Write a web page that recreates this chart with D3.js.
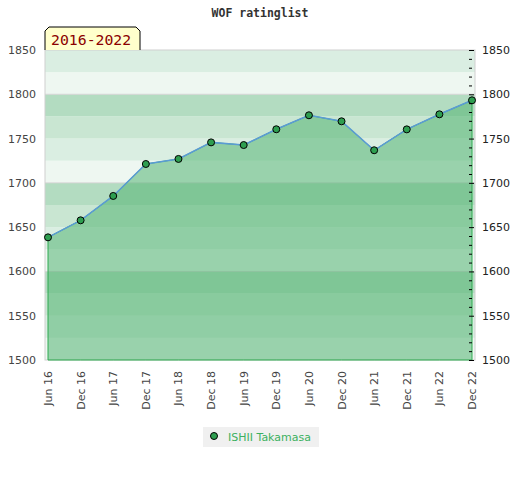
<!DOCTYPE html>
<html>
<head>
<meta charset="utf-8">
<script src="https://cdn.jsdelivr.net/npm/d3@7"></script>
<style>
  body { margin: 0; background: #fff; }
  text { font-family: "DejaVu Sans", sans-serif; }
</style>
</head>
<body>
<svg id="chart" width="520" height="480"></svg>
<script>
var periods = ["Jun 16","Dec 16","Jun 17","Dec 17","Jun 18","Dec 18","Jun 19",
               "Dec 19","Jun 20","Dec 20","Jun 21","Dec 21","Jun 22","Dec 22"];
var ratings = [1638.5, 1657.7, 1685.2, 1721.3, 1727, 1745.7, 1742.7,
               1760.5, 1776.3, 1769.5, 1736.8, 1760.4, 1777.4, 1793.2];
var yTicks = [1500, 1550, 1600, 1650, 1700, 1750, 1800, 1850];
var playerName = "ISHII Takamasa";
var yearRange = "2016-2022";
var chartTitle = "WOF ratinglist";

(function(){
var plotL = 45, plotR = 475, plotT = 50, plotB = 360;

var svg = d3.select("#chart");

var x = d3.scalePoint()
    .domain(periods)
    .range([48, 472]);
var y = d3.scaleLinear()
    .domain([1500, 1850])
    .range([plotB, plotT]);

// background bands, 25 points each
var bandColor = { 75: "#b3dcc1", 50: "#c9e6d2", 25: "#daeee2", 0: "#eef7f1" };
var bands = d3.range(1500, 1850, 25);
svg.append("g").selectAll("rect")
    .data(bands)
  .enter().append("rect")
    .attr("x", plotL)
    .attr("width", plotR - plotL)
    .attr("y", function(d){ return y(d + 25); })
    .attr("height", function(d){ return y(d) - y(d + 25); })
    .attr("fill", function(d){ return bandColor[d % 100]; });

svg.append("g").selectAll("line")
    .data([1600, 1700, 1800])
  .enter().append("line")
    .attr("x1", plotL).attr("x2", plotR)
    .attr("y1", function(d){ return y(d); })
    .attr("y2", function(d){ return y(d); })
    .attr("stroke", "#d4d4d4");

svg.append("rect")
    .attr("x", plotL).attr("y", plotT)
    .attr("width", plotR - plotL).attr("height", plotB - plotT)
    .attr("fill", "none")
    .attr("stroke", "#d0d0d0");

// area + line
var area = d3.area()
    .x(function(d, i){ return x(periods[i]); })
    .y0(y(1500))
    .y1(function(d){ return y(d); });
var line = d3.line()
    .x(function(d, i){ return x(periods[i]); })
    .y(function(d){ return y(d); });

svg.append("path")
    .datum(ratings)
    .attr("d", area)
    .attr("fill", "rgb(83,180,115)")
    .attr("fill-opacity", 0.55)
    .attr("stroke", "#2eaa50")
    .attr("stroke-width", 1);

svg.append("path")
    .datum(ratings)
    .attr("d", line)
    .attr("fill", "none")
    .attr("stroke", "#5b9bd5")
    .attr("stroke-width", 1.5);

svg.append("g").selectAll("circle")
    .data(ratings)
  .enter().append("circle")
    .attr("cx", function(d, i){ return x(periods[i]); })
    .attr("cy", function(d){ return y(d); })
    .attr("r", 3.5)
    .attr("fill", "#2e9e50")
    .attr("stroke", "#000")
    .attr("stroke-width", 1);

// right axis: minor ticks every 10
var minor = svg.append("g")
    .attr("transform", "translate(472,0)")
    .call(d3.axisLeft(y)
      .tickValues(d3.range(1500, 1851, 10))
      .tickSize(3)
      .tickFormat(""));
minor.select(".domain").remove();
minor.selectAll(".tick line").attr("stroke", "#000");

var major = svg.append("g")
    .attr("transform", "translate(472,0)")
    .call(d3.axisRight(y)
      .tickValues(yTicks)
      .tickSize(2)
      .tickFormat(d3.format("d"))
      .tickPadding(8));
major.select(".domain").remove();
major.selectAll(".tick line").attr("stroke", "#000");
major.selectAll(".tick text")
    .attr("fill", "#222")
    .style("font-size", "11px")
    .style("font-family", "DejaVu Sans");

// left axis labels
var leftAx = svg.append("g")
    .attr("transform", "translate(" + plotL + ",0)")
    .call(d3.axisLeft(y)
      .tickValues(yTicks)
      .tickSize(0)
      .tickFormat(d3.format("d"))
      .tickPadding(9));
leftAx.select(".domain").remove();
leftAx.selectAll(".tick text")
    .attr("fill", "#444")
    .style("font-size", "11px")
    .style("font-family", "DejaVu Sans");

// x labels, rotated
svg.append("g").selectAll("text")
    .data(periods)
  .enter().append("text")
    .attr("transform", function(d){ return "translate(" + (x(d) + 4) + ",371) rotate(-90)"; })
    .attr("text-anchor", "end")
    .attr("fill", "#444")
    .style("font-size", "11px")
    .text(function(d){ return d; });

// title
svg.append("text")
    .attr("x", 260)
    .attr("y", 17)
    .attr("text-anchor", "middle")
    .attr("fill", "#333")
    .style("font-family", "DejaVu Sans Mono")
    .style("font-weight", "bold")
    .style("font-size", "11.5px")
    .text(chartTitle);

// year badge
svg.append("path")
    .attr("d", "M45,50 L45,31 L49,27 L136,27 L140,31 L140,50")
    .attr("fill", "#ffffcc")
    .attr("stroke", "#000")
    .attr("stroke-width", 1);
svg.append("text")
    .attr("x", 51)
    .attr("y", 45)
    .attr("fill", "#8b0000")
    .style("font-family", "DejaVu Sans Mono")
    .style("font-size", "14.8px")
    .text(yearRange);

// legend
var legend = svg.append("g");
legend.append("rect")
    .attr("x", 203).attr("y", 427)
    .attr("width", 116).attr("height", 20)
    .attr("fill", "#f0f0f0");
legend.append("circle")
    .attr("cx", 214).attr("cy", 436)
    .attr("r", 3.5)
    .attr("fill", "#2e9e50")
    .attr("stroke", "#000");
legend.append("text")
    .attr("x", 228).attr("y", 441)
    .attr("fill", "#3cb060")
    .style("font-size", "11px")
    .text(playerName);
})();
</script>
</body>
</html>
